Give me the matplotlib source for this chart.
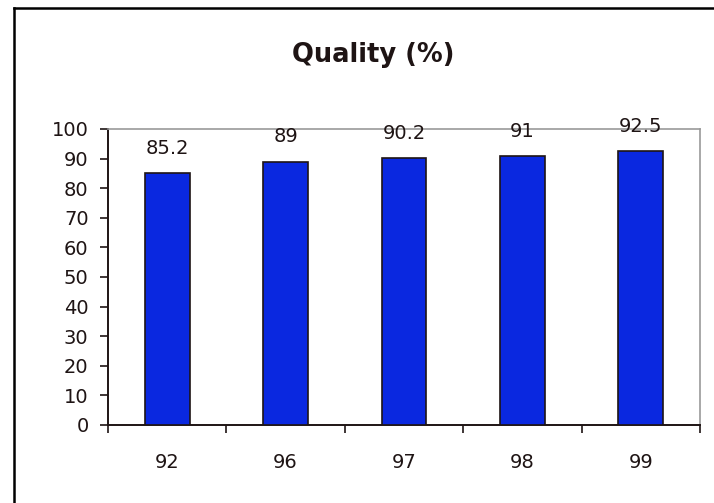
import matplotlib.pyplot as plt
from matplotlib.lines import Line2D
import numpy as np

years = ['92', '96', '97', '98', '99']
quality = [85.2, 89, 90.2, 91, 92.5]
value_labels = ['85.2', '89', '90.2', '91', '92.5']

ink = '#1e1414'

fig = plt.figure(figsize=(7.14, 5.03), dpi=100)
ax = fig.add_axes([108/714, 1 - 425/503, 592/714, 296/503])

x = np.arange(len(years))
bars = ax.bar(x, quality, width=0.38, color='#0a28e0', edgecolor=ink, linewidth=1.2, zorder=3)

for b, v, lab in zip(bars, quality, value_labels):
    ax.text(b.get_x() + b.get_width() / 2, v + 8.3, lab, ha='center', va='center',
            fontsize=14, color=ink, zorder=4)

ax.set_xlim(-0.5, len(years) - 0.5)
ax.set_ylim(0, 100)
ax.set_yticks(range(0, 101, 10))

# category labels at centres, tick marks at category boundaries
ax.set_xticks(x)
ax.set_xticklabels(years)
ax.set_xticks(np.arange(-0.5, len(years), 1), minor=True)
ax.tick_params(axis='x', which='major', length=0, pad=20, labelsize=14, labelcolor=ink)
ax.tick_params(axis='x', which='minor', length=6, width=1.2, direction='out', color=ink)
ax.tick_params(axis='y', length=6, width=1.2, direction='out', color=ink,
               labelsize=14, labelcolor=ink, pad=8)

for side in ['left', 'bottom']:
    ax.spines[side].set_color(ink)
    ax.spines[side].set_linewidth(1.4)
for side in ['top', 'right']:
    ax.spines[side].set_color('#999999')
    ax.spines[side].set_linewidth(1.2)

fig.text(373/714, 1 - 62/503, 'Quality (%)', ha='center', va='baseline',
         fontsize=18.5, fontweight='bold', color=ink)

# outer frame, only left and top edges visible
fig.add_artist(Line2D([14/714, 14/714], [0, 1 - 8/503], color='black', linewidth=1.8))
fig.add_artist(Line2D([14/714, 1], [1 - 8/503, 1 - 8/503], color='black', linewidth=1.8))

fig.savefig('out.png', dpi=100)
